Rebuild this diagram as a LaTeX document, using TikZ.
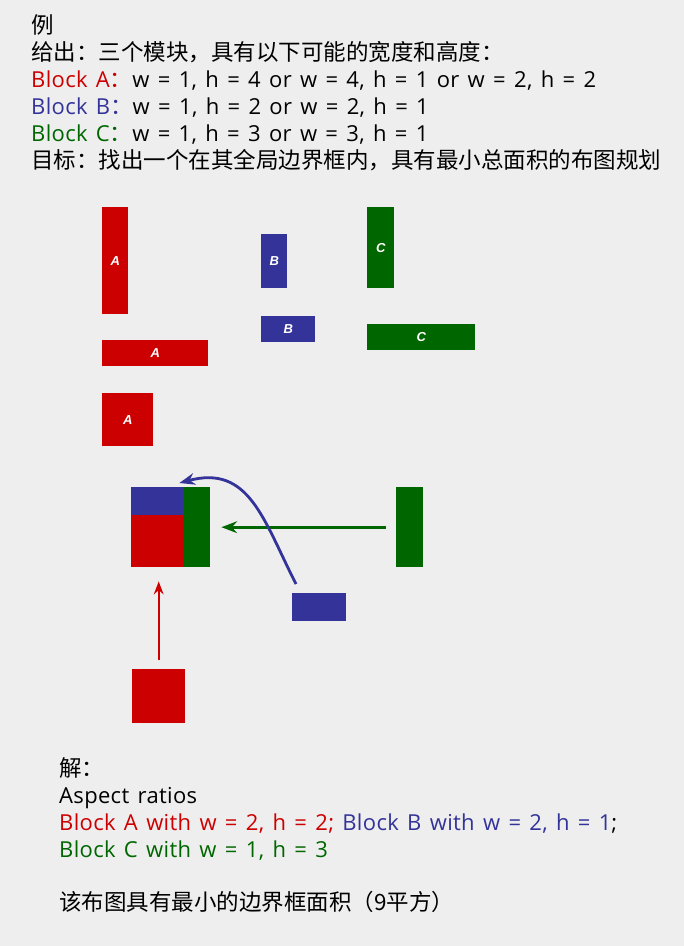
\documentclass[tikz,border=0pt]{standalone}
\usepackage{fontspec}
\setmainfont[WordSpace=1.38, LetterSpace=1.5]{Open Sans}
\newfontfamily\cjk{Noto Sans CJK SC}
\newfontfamily\lblfont{Liberation Sans}
\usetikzlibrary{arrows.meta, positioning}
\definecolor{blkred}{HTML}{CC0000}
\definecolor{blkblue}{HTML}{333399}
\definecolor{blkgreen}{HTML}{006600}
\definecolor{pagebg}{HTML}{EEEEEE}
\newcommand{\cjkcolon}{{\cjk\fontsize{22.5}{26}\selectfont ：}}

\begin{document}
\begin{tikzpicture}[
    x=1pt, y=-1pt,
    >=Stealth,
    txt/.style={anchor=base west, inner sep=0pt, font=\fontsize{22}{26}\selectfont},
    cjktxt/.style={txt, font=\cjk\fontsize{22.5}{26}\selectfont},
    blk/.style={anchor=north west, inner sep=0pt, text=white, font=\lblfont\bfseries\itshape\fontsize{13}{15}\selectfont},
    blockA/.style={blk, fill=blkred},
    blockB/.style={blk, fill=blkblue},
    blockC/.style={blk, fill=blkgreen}
]

% Page background
\fill[pagebg] (0,0) rectangle (684,946);
\useasboundingbox (0,0) rectangle (684,946);

% Problem statement
\node (ex) [cjktxt] at (31,33) {例};
\node (given) [cjktxt] at (31,60) {给出：三个模块，具有以下可能的宽度和高度：};
\node (optA) [txt] at (31,87) {\textcolor{blkred}{Block A\cjkcolon}w = 1, h = 4 or w = 4, h = 1 or w = 2, h = 2};
\node (optB) [txt] at (31,114) {\textcolor{blkblue}{Block B\cjkcolon}w = 1, h = 2 or w = 2, h = 1};
\node (optC) [txt] at (31,141) {\textcolor{blkgreen}{Block C\cjkcolon}w = 1, h = 3 or w = 3, h = 1};
\node (goal) [cjktxt] at (31,168) {目标：找出一个在其全局边界框内，具有最小总面积的布图规划};

% Possible shapes of block A
\node (A1) [blockA, minimum width=26pt, minimum height=107pt] at (102,207) {A};
\node (A2) [blockA, minimum width=106pt, minimum height=26pt] at (102,340) {A};
\node (A3) [blockA, minimum width=51pt, minimum height=53pt] at (102,393) {A};

% Possible shapes of block B
\node (B1) [blockB, minimum width=26pt, minimum height=54pt] at (261,234) {B};
\node (B2) [blockB, minimum width=54pt, minimum height=26pt] at (261,316) {B};

% Possible shapes of block C
\node (C1) [blockC, minimum width=27pt, minimum height=81pt] at (367,207) {C};
\node (C2) [blockC, minimum width=108pt, minimum height=26pt] at (367,324) {C};

% Final floorplan
\node (fpB) [blockB, minimum width=53pt, minimum height=28pt] at (131,487) {};
\node (fpA) [blockA, minimum width=53pt, minimum height=52pt] at (131,515) {};
\node (fpC) [blockC, minimum width=26pt, minimum height=80pt] at (184,487) {};

% Chosen shapes
\node (selC) [blockC, minimum width=27pt, minimum height=80pt] at (396,487) {};
\node (selB) [blockB, minimum width=54pt, minimum height=28pt] at (292,593) {};
\node (selA) [blockA, minimum width=53pt, minimum height=54pt] at (132,669) {};

% Moves into the floorplan
\draw[->, blkred, line width=2.2pt, shorten <=9pt, shorten >=14pt] (selA.north) -- (selA.north |- fpA.south);
\draw[->, blkgreen, line width=2.8pt, shorten <=10pt, shorten >=11pt] (selC.west) -- (selC.west -| fpC.east);
\draw[->, blkblue, line width=2.8pt] ([xshift=4pt, yshift=9pt]selB.north west) to[out=117, in=15, looseness=1.2] ([xshift=-5pt, yshift=4pt]fpB.north east);

% Solution
\node (sol) [cjktxt] at (59,776) {解：};
\node (aspect) [txt] at (59,803) {Aspect ratios};
\node (resAB) [txt] at (59,830) {\textcolor{blkred}{Block A with w = 2, h = 2;} \textcolor{blkblue}{Block B with w = 2, h = 1};};
\node (resC) [txt, text=blkgreen] at (59,857) {Block C with w = 1, h = 3};
\node (area) [cjktxt] at (59,910) {该布图具有最小的边界框面积（9平方）};

\end{tikzpicture}
\end{document}
